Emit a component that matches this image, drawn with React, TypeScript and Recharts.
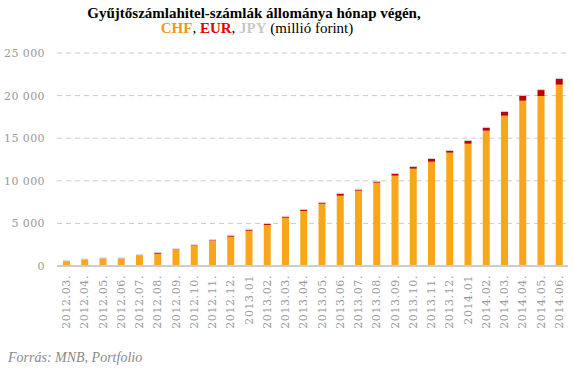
import React from 'react';
import { BarChart, Bar, XAxis, YAxis, CartesianGrid } from 'recharts';

const categories = ['2012.03.','2012.04.','2012.05.','2012.06.','2012.07.','2012.08.','2012.09.','2012.10.','2012.11.','2012.12.','2013.01','2013.02.','2013.03.','2013.04.','2013.05.','2013.06.','2013.07.','2013.08.','2013.09.','2013.10.','2013.11.','2013.12.','2014.01','2014.02.','2014.03.','2014.04.','2014.05.','2014.06.'];
const chf = [540,740,860,860,1210,1440,1910,2380,2970,3440,4140,4820,5670,6460,7310,8250,8840,9780,10600,11420,12240,13300,14350,15880,17640,19400,19950,21280];
const eur = [20,20,30,30,40,120,50,60,60,120,120,120,120,150,120,230,120,120,230,230,350,230,350,350,470,590,700,700];
const jpy = [110,110,110,110,120,110,120,120,120,110,110,120,110,100,120,110,120,100,120,120,90,120,120,120,90,120,120,120];
const yTicks = [0,5000,10000,15000,20000,25000];

const data = categories.map((c, i) => ({ name: c, chf: chf[i], eur: eur[i], jpy: jpy[i] }));

const SERIF = '"Liberation Serif", "DejaVu Serif", serif';
const TICKSERIF = '"DejaVu Serif", serif';

const fmt = (v: number) => (v === 0 ? '0' : String(v).replace(/\B(?=(\d{3})+(?!\d))/g, ' '));

const XTick = (props: any) => {
  const { x, y, payload } = props;
  return (
    <text
      transform={`translate(${x + 4},${y + 1}) rotate(-90)`}
      textAnchor="end"
      fontSize={11}
      fontFamily={TICKSERIF}
      fill="#9a9a9a"
      letterSpacing={0.6}
    >
      {payload.value}
    </text>
  );
};

export default function App() {
  return (
    <div style={{ position: 'absolute', left: 0, top: 0, width: 574, height: 374, background: '#fff' }}>
      <div style={{ position: 'absolute', left: 0, top: 5, width: 508, textAlign: 'center', fontFamily: SERIF, fontWeight: 'bold', fontSize: 15, lineHeight: '16px', color: '#000' }}>
        Gyűjtőszámlahitel-számlák állománya hónap végén,
      </div>
      <div style={{ position: 'absolute', left: 0, top: 20, width: 514, textAlign: 'center', fontFamily: SERIF, fontSize: 15, lineHeight: '16px', color: '#000' }}>
        <span style={{ color: '#F7941D', fontWeight: 'bold' }}>CHF</span>,{' '}
        <span style={{ color: '#E00000', fontWeight: 'bold' }}>EUR</span>,{' '}
        <span style={{ color: '#C8C8C8', fontWeight: 'bold' }}>JPY</span> (millió forint)
      </div>
      <BarChart
        width={574}
        height={374}
        data={data}
        margin={{ top: 53, right: 6, bottom: 48, left: 7 }}
        barSize={7}
      >
        <CartesianGrid vertical={false} stroke="#cccccc" strokeDasharray="5 4" />
        <XAxis
          dataKey="name"
          interval={0}
          tickLine={false}
          axisLine={{ stroke: '#cccccc', strokeWidth: 2 }}
          height={60}
          tick={<XTick />}
        />
        <YAxis
          width={50}
          domain={[0, 25000]}
          ticks={yTicks}
          tickFormatter={fmt}
          tickLine={false}
          axisLine={false}
          tickMargin={6}
          tick={{ fontSize: 11, fontFamily: TICKSERIF, fill: '#9a9a9a', letterSpacing: 0.4 }}
        />
        <Bar dataKey="chf" stackId="a" fill="#F9A61B" isAnimationActive={false} />
        <Bar dataKey="eur" stackId="a" fill="#C00000" isAnimationActive={false} />
        <Bar dataKey="jpy" stackId="a" fill="#D0D0D0" isAnimationActive={false} />
      </BarChart>
      <div style={{ position: 'absolute', left: 8, top: 350, fontFamily: SERIF, fontStyle: 'italic', fontSize: 14, color: '#8a8a8a' }}>
        Forrás: MNB, Portfolio
      </div>
    </div>
  );
}
